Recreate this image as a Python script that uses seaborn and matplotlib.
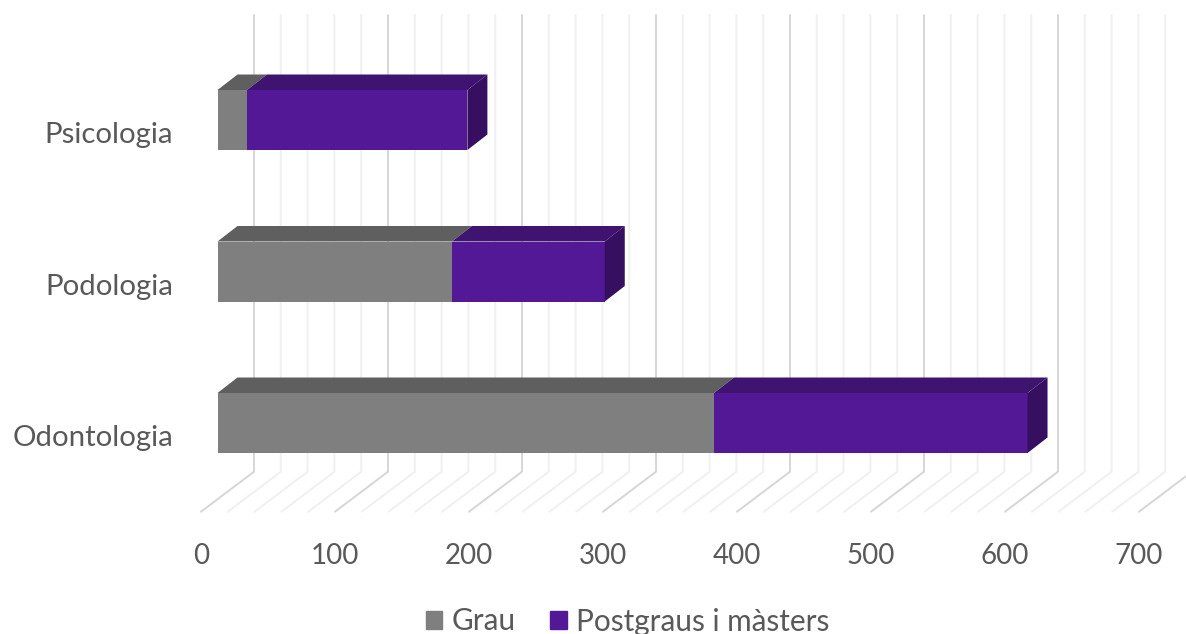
import numpy as np
import pandas as pd
import matplotlib
matplotlib.use("Agg")
import matplotlib.pyplot as plt
import seaborn as sns
from matplotlib.patches import Patch
from matplotlib.transforms import ScaledTranslation

# values
categories = ["Psicologia", "Podologia", "Odontologia"]
grau = [22, 175, 370.5]
postgraus = [164.5, 114, 234]
major_ticks = [0, 100, 200, 300, 400, 500, 600, 700]
minor_ticks = [20, 40, 60, 80, 120, 140, 160, 180, 220, 240, 260, 280, 320, 340, 360, 380,
               420, 440, 460, 480, 520, 540, 560, 580, 620, 640, 660, 680]

GREY = "#7F7F7F"
GREY_TOP = "#5F5F5F"
PURPLE = "#521896"
PURPLE_TOP = "#3E1470"
PURPLE_SIDE = "#360F60"
TEXT = "#595959"

PX_X = 1.34   # pixels per unit on the value axis
PX_Y = 151.5  # pixels between categories

sns.set_theme(style="white")
plt.rcParams["font.family"] = ["Lato", "DejaVu Sans"]

df = pd.DataFrame({"category": categories, "grau": grau, "postgraus": postgraus})
df["total"] = df["grau"] + df["postgraus"]

fig = plt.figure(figsize=(11.86, 6.34), dpi=100)
ax = fig.add_axes([217.5 / 1186, 1 - 512 / 634, (1186 - 217.5) / 1186, 512 / 634])

# stacked bars, front faces
sns.barplot(data=df, x="total", y="category", color=PURPLE, width=60 / PX_Y, saturation=1,
            edgecolor="none", linewidth=0, ax=ax, zorder=3)
sns.barplot(data=df, x="grau", y="category", color=GREY, width=60 / PX_Y, saturation=1,
            edgecolor="none", linewidth=0, ax=ax, zorder=3)

ax.set_xlim(0, (1186 - 217.5) / PX_X)
ax.set_ylim((512 - 120) / PX_Y, -120 / PX_Y)

# walls of the 3d look
wall_top = (15 - 120) / PX_Y
back_y = (471.7 - 120) / PX_Y
front_y = (511.7 - 120) / PX_Y
back_dx = 36.5 / PX_X
front_dx = -16.5 / PX_X
for ticks, col in [(minor_ticks, "#F0F0F0"), (major_ticks, "#D6D6D6")]:
    for t in ticks:
        ax.plot([t + back_dx, t + back_dx, t + front_dx], [wall_top, back_y, front_y],
                color=col, lw=1.4, clip_on=False, zorder=1, solid_joinstyle="miter")

# top and side faces of the bars
dx = 20 / PX_X
dy = 15.5 / PX_Y
half = 30 / PX_Y
for i, row in df.iterrows():
    top = i - half
    bottom = i + half
    ax.fill([0, row["grau"], row["grau"] + dx, dx], [top, top, top - dy, top - dy],
            color=GREY_TOP, lw=0, clip_on=False, zorder=3)
    ax.fill([row["grau"], row["total"], row["total"] + dx, row["grau"] + dx],
            [top, top, top - dy, top - dy], color=PURPLE_TOP, lw=0, clip_on=False, zorder=3)
    ax.fill([row["total"], row["total"] + dx, row["total"] + dx, row["total"]],
            [top, top - dy, bottom - dy, bottom], color=PURPLE_SIDE, lw=0, clip_on=False, zorder=3)

ax.set_xlabel("")
ax.set_ylabel("")
ax.set_xticks(major_ticks)
ax.tick_params(axis="x", length=0, pad=22, labelsize=20, labelcolor=TEXT)
ax.tick_params(axis="y", length=0, pad=32, labelsize=21.2, labelcolor=TEXT)
shift = ScaledTranslation(-16.5 / 100, 0, fig.dpi_scale_trans)
for label in ax.get_xticklabels():
    label.set_transform(label.get_transform() + shift)
shift_y = ScaledTranslation(0, -12.5 / 100, fig.dpi_scale_trans)
for label in ax.get_yticklabels():
    label.set_transform(label.get_transform() + shift_y)
sns.despine(ax=ax, left=True, bottom=True)
ax.patch.set_alpha(0)

handles = [Patch(color=GREY, label="Grau"), Patch(color=PURPLE, label="Postgraus i màsters")]
fig.legend(handles=handles, loc="center", bbox_to_anchor=(627.5 / 1186, 1 - 621.5 / 634), ncol=2,
           frameon=False, fontsize=21.4, labelcolor=TEXT, handlelength=0.56, handleheight=0.56,
           handletextpad=0.3, columnspacing=1.18, borderpad=0, borderaxespad=0)

fig.savefig("out.png", dpi=100)
